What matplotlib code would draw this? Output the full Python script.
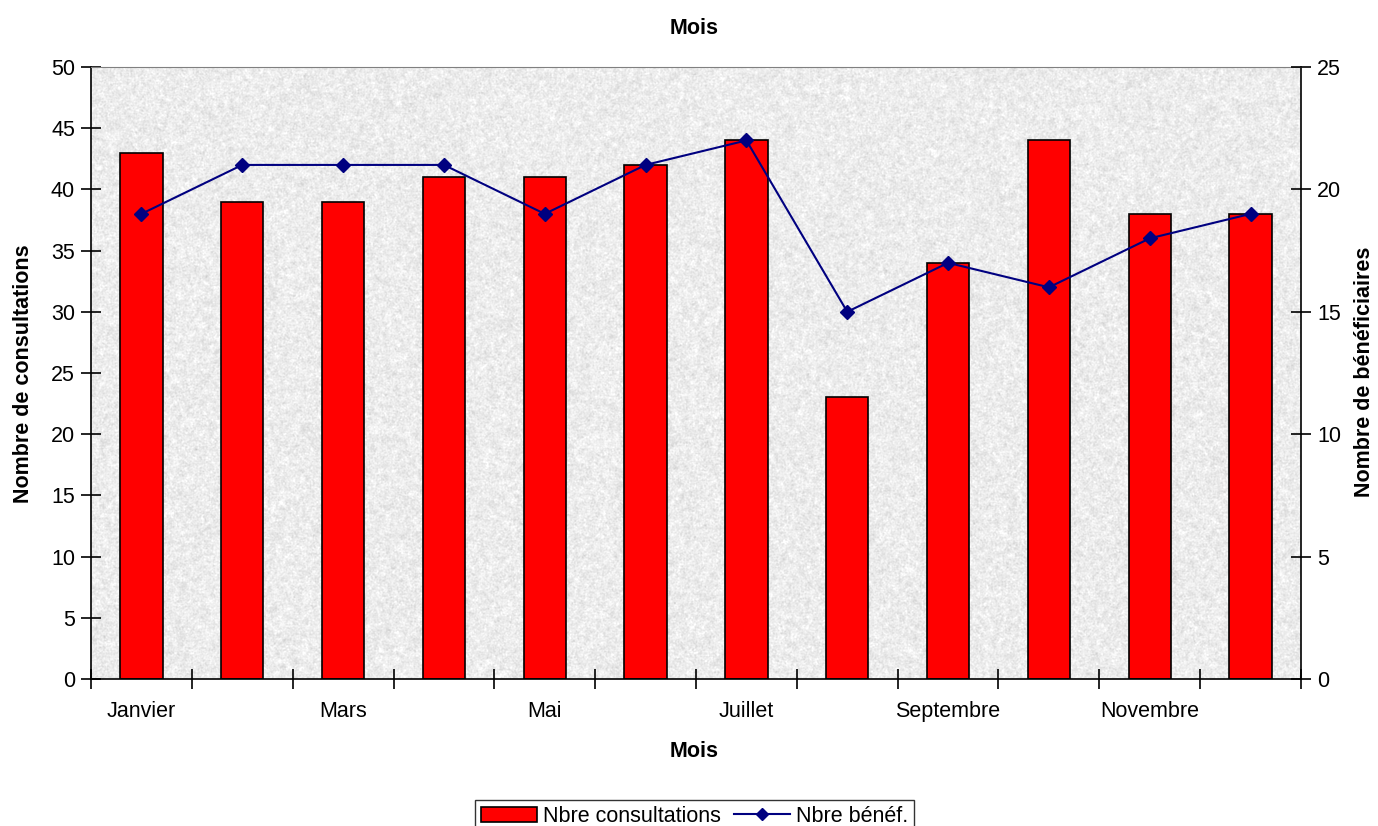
import numpy as np
import matplotlib.pyplot as plt
from matplotlib.lines import Line2D
from matplotlib.patches import Patch

plt.rcParams['font.family'] = ['Liberation Sans', 'DejaVu Sans']

mois = ["Janvier", "Février", "Mars", "Avril", "Mai", "Juin", "Juillet",
        "Août", "Septembre", "Octobre", "Novembre", "Décembre"]
consultations = [43, 39, 39, 41, 41, 42, 44, 23, 34, 44, 38, 38]
beneficiaires = [19, 21, 21, 21, 19, 21, 22, 15, 17, 16, 18, 19]


def granite(h, w, seed=3):
    # fond gris granité : bruit lissé à deux échelles
    rng = np.random.default_rng(seed)

    def blur(a, k):
        kern = np.ones(k) / k
        a = np.apply_along_axis(lambda r: np.convolve(r, kern, mode="same"), 1, a)
        a = np.apply_along_axis(lambda c: np.convolve(c, kern, mode="same"), 0, a)
        return a

    fine = blur(rng.standard_normal((h, w)), 2)
    coarse = blur(rng.standard_normal((h, w)), 5)
    v = 0.925 + 0.022 * fine / fine.std() + 0.015 * coarse / coarse.std()
    return np.clip(v, 0.78, 1.0)


fig = plt.figure(figsize=(13.78, 8.26), dpi=100)
ax = fig.add_axes([91 / 1378, 147 / 826, 1210 / 1378, 612 / 826])

x = np.arange(len(mois))
ax.imshow(granite(612, 1210), cmap="gray", vmin=0, vmax=1, aspect="auto",
          extent=(-0.5, 11.5, 0, 50), interpolation="bilinear", zorder=0)
ax.bar(x, consultations, width=0.42, color="#ff0000", edgecolor="black",
       linewidth=1.2, zorder=2)

fs = 15.5
ax.set_xlim(-0.5, 11.5)
ax.set_ylim(0, 50)
ax.set_yticks(range(0, 51, 5))
ax.set_xticks(np.arange(-0.5, 12, 1))
ax.set_xticklabels([])
ax.set_xticks(x[::2], minor=True)
ax.set_xticklabels(mois[::2], minor=True)
ax.tick_params(axis="x", which="major", direction="inout", length=15, width=1.2)
ax.tick_params(axis="x", which="minor", length=0, pad=16, labelsize=fs)
ax.tick_params(axis="y", direction="inout", length=15, width=1.2, labelsize=fs, pad=4)
ax.spines["top"].set_color("#808080")
for s in ("left", "bottom", "right"):
    ax.spines[s].set_linewidth(1.2)

ax2 = ax.twinx()
ax2.plot(x, beneficiaires, color="#000080", linewidth=1.5, marker="D",
         markersize=7, zorder=3)
ax2.set_ylim(0, 25)
ax2.set_yticks(range(0, 26, 5))
ax2.tick_params(axis="y", direction="inout", length=15, width=1.2, labelsize=fs, pad=4)
for s in ax2.spines.values():
    s.set_visible(False)

fig.text(0.504, 0.966, "Mois", ha="center", va="center", fontsize=fs, fontweight="bold")
fig.text(0.504, 0.090, "Mois", ha="center", va="center", fontsize=fs, fontweight="bold")
fig.text(0.017, 0.548, "Nombre de consultations", ha="center", va="center",
         rotation=90, fontsize=fs, fontweight="bold")
fig.text(0.990, 0.550, "Nombre de bénéficiaires", ha="center", va="center",
         rotation=90, fontsize=fs, fontweight="bold")

handles = [Patch(facecolor="#ff0000", edgecolor="black", linewidth=1.2),
           Line2D([], [], color="#000080", linewidth=1.5, marker="D", markersize=6)]
fig.legend(handles, ["Nbre consultations", "Nbre bénéf."], loc="upper center",
           bbox_to_anchor=(0.504, 0.044), ncol=2, fontsize=fs, frameon=True,
           fancybox=False, edgecolor="black", handlelength=2.6, handletextpad=0.3,
           columnspacing=0.6, borderpad=0.25)

fig.savefig("out.png", dpi=100)
